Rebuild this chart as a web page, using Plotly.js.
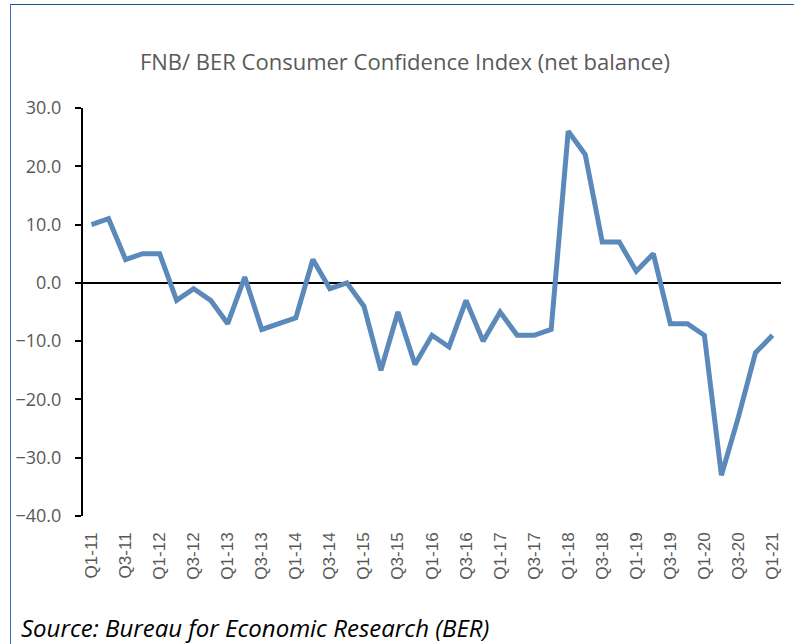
<!DOCTYPE html>
<html>
<head>
<meta charset="utf-8">
<script src="https://cdn.plot.ly/plotly-3.0.1.min.js"></script>
<style>
  html, body { margin: 0; padding: 0; background: #ffffff; }
  #wrap { position: relative; width: 794px; height: 644px; overflow: hidden; }
  #chart { position: absolute; left: 0; top: 0; width: 794px; height: 644px; }
  #frameTop { position: absolute; left: 10px; top: 4px; width: 784px; height: 0; border-top: 1.5px solid #1f4e8c; }
  #frameLeft { position: absolute; left: 10px; top: 4px; width: 0; height: 640px; border-left: 1.5px solid #3a6fc0; }
</style>
</head>
<body>
<div id="wrap">
  <div id="chart"></div>
  <div id="frameTop"></div>
  <div id="frameLeft"></div>
</div>
<script>
// Quarterly categories Q1-11 .. Q1-21
const quarters = [
  "Q1-11","Q2-11","Q3-11","Q4-11",
  "Q1-12","Q2-12","Q3-12","Q4-12",
  "Q1-13","Q2-13","Q3-13","Q4-13",
  "Q1-14","Q2-14","Q3-14","Q4-14",
  "Q1-15","Q2-15","Q3-15","Q4-15",
  "Q1-16","Q2-16","Q3-16","Q4-16",
  "Q1-17","Q2-17","Q3-17","Q4-17",
  "Q1-18","Q2-18","Q3-18","Q4-18",
  "Q1-19","Q2-19","Q3-19","Q4-19",
  "Q1-20","Q2-20","Q3-20","Q4-20",
  "Q1-21"
];

// FNB/BER Consumer Confidence Index (net balance)
const cciValues = [
  10, 11, 4, 5,
  5, -3, -1, -3,
  -7, 1, -8, -7,
  -6, 4, -1, 0,
  -4, -15, -5, -14,
  -9, -11, -3, -10,
  -5, -9, -9, -8,
  26, 22, 7, 7,
  2, 5, -7, -7,
  -9, -33, -23, -12,
  -9
];

// Labelled ticks (every second quarter)
const tickLabels = [
  "Q1-11","Q3-11","Q1-12","Q3-12","Q1-13","Q3-13","Q1-14","Q3-14",
  "Q1-15","Q3-15","Q1-16","Q3-16","Q1-17","Q3-17","Q1-18","Q3-18",
  "Q1-19","Q3-19","Q1-20","Q3-20","Q1-21"
];

const titleText = "FNB/ BER Consumer Confidence Index (net balance)";
const sourceText = "Source: Bureau for Economic Research (BER)";

const xIdx = quarters.map((q, i) => i);
const tickVals = tickLabels.map(t => quarters.indexOf(t));

const trace = {
  x: xIdx,
  y: cciValues,
  type: "scatter",
  mode: "lines",
  line: { color: "#5a89ba", width: 5, shape: "linear" },
  hoverinfo: "skip",
  showlegend: false
};

const layout = {
  width: 794,
  height: 644,
  margin: { l: 83, r: 13, t: 108, b: 128, pad: 0 },
  paper_bgcolor: "#ffffff",
  plot_bgcolor: "#ffffff",
  showlegend: false,
  title: {
    text: titleText,
    font: { family: "Open Sans, sans-serif", size: 22, color: "#595959" },
    xref: "container", x: 0.51, xanchor: "center",
    yref: "container", y: 1 - 62 / 644, yanchor: "middle"
  },
  xaxis: {
    range: [-0.5, 40.5],
    tickmode: "array",
    tickvals: tickVals,
    ticktext: tickLabels,
    tickangle: -90,
    ticks: "",
    showline: false,
    showgrid: false,
    zeroline: false,
    ticklabelstandoff: 12,
    tickfont: { family: "Liberation Sans, Arial, sans-serif", size: 17, color: "#595959" },
    fixedrange: true
  },
  yaxis: {
    range: [-40, 30],
    dtick: 10,
    tick0: 0,
    tickformat: ".1f",
    ticks: "outside",
    ticklen: 6,
    tickwidth: 2,
    tickcolor: "#000000",
    showline: true,
    linecolor: "#000000",
    linewidth: 2,
    showgrid: false,
    zeroline: true,
    zerolinecolor: "#000000",
    zerolinewidth: 2,
    ticklabelstandoff: 10,
    tickfont: { family: "Open Sans, sans-serif", size: 18, color: "#595959" },
    fixedrange: true
  },
  annotations: [
    {
      text: sourceText,
      xref: "paper", yref: "paper",
      x: (19 - 83) / 698, y: (516 - 627) / 408,
      xanchor: "left", yanchor: "middle",
      showarrow: false,
      font: { family: "Open Sans, sans-serif", size: 24, color: "#000000", style: "italic" }
    }
  ]
};

Plotly.newPlot("chart", [trace], layout, { displayModeBar: false, staticPlot: true });
</script>
</body>
</html>
